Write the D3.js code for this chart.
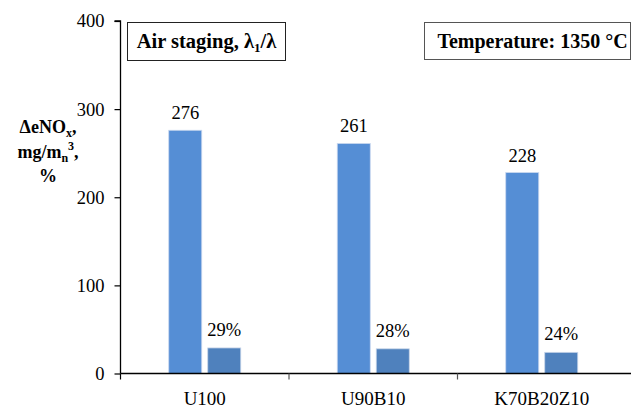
<!DOCTYPE html>
<html><head><meta charset="utf-8">
<script src="https://cdn.jsdelivr.net/npm/d3@7"></script>
</head><body style="margin:0;background:#fff"><svg id="c" width="632" height="407" style="display:block"></svg>
<script>
const categories = ["U100", "U90B10", "K70B20Z10"];
const emissionValues = [276, 261, 228];
const percentValues = [29, 28, 24];
const emissionLabels = ["276", "261", "228"];
const percentLabels = ["29%", "28%", "24%"];
const yTicks = [0, 100, 200, 300, 400];

const FONT = "'Liberation Serif'";
const svg = d3.select("#c");
const x0 = 120.5, x1 = 626, yTop = 21, yBot = 373.5;
const x = d3.scaleBand().domain(categories).range([x0, x1]);
const y = d3.scaleLinear().domain([0, 400]).range([yBot, yTop]);
const barW = 33, gap = 6;

function txt(sel) { return sel.style("font-family", FONT).style("fill", "#000"); }

const g = svg.append("g");
categories.forEach((c, i) => {
  const cx = x(c) + x.bandwidth() / 2;
  g.append("rect").attr("x", cx - gap/2 - barW).attr("y", y(emissionValues[i]))
    .attr("width", barW).attr("height", y(0) - y(emissionValues[i]))
    .attr("fill", "#558ed5").attr("stroke", "#c9d8ee").attr("stroke-width", 0.8);
  g.append("rect").attr("x", cx + gap/2).attr("y", y(percentValues[i]))
    .attr("width", barW).attr("height", y(0) - y(percentValues[i]))
    .attr("fill", "#4f81bd").attr("stroke", "#c6d4e8").attr("stroke-width", 0.8);
  txt(g.append("text")).attr("x", cx - gap/2 - barW/2).attr("y", y(emissionValues[i]) - 11)
    .attr("text-anchor", "middle").style("font-size", "18.5px").text(emissionLabels[i]);
  txt(g.append("text")).attr("x", cx + gap/2 + barW/2).attr("y", y(percentValues[i]) - 12)
    .attr("text-anchor", "middle").style("font-size", "18.5px").text(percentLabels[i]);
});

const ya = svg.append("g").attr("transform", `translate(${x0},0)`)
  .call(d3.axisLeft(y).tickValues(yTicks).tickSize(6).tickPadding(10));
ya.attr("font-family", null);
ya.select(".domain").attr("stroke", "#000").attr("stroke-width", 1.3).attr("d", `M-6,${yTop}H0V${yBot}`);
ya.selectAll(".tick line").attr("stroke", "#000").attr("stroke-width", 1.2);
txt(ya.selectAll("text")).style("font-size", "18.5px");

const xa = svg.append("g").attr("transform", `translate(0,${yBot})`);
xa.append("line").attr("x1", x0).attr("x2", 631).attr("stroke", "#000").attr("stroke-width", 1.6);
categories.forEach((c, i) => {
  xa.append("line").attr("x1", x(c)).attr("x2", x(c)).attr("y1", 0).attr("y2", 6)
    .attr("stroke", i === 0 ? "#000" : "#555").attr("stroke-width", 1.2);
  txt(xa.append("text")).attr("x", x(c) + x.bandwidth()/2).attr("y", 31)
    .attr("text-anchor", "middle").style("font-size", "19px").text(c);
});

const t1 = txt(svg.append("text")).attr("x", 48).attr("y", 133).attr("text-anchor", "middle")
  .style("font-weight", "bold").style("font-size", "18px");
t1.append("tspan").text("ΔeNO");
t1.append("tspan").style("font-size", "12px").attr("dy", 4).text("x");
t1.append("tspan").attr("dy", -4).text(",");
const t2 = txt(svg.append("text")).attr("x", 48).attr("y", 158).attr("text-anchor", "middle")
  .style("font-weight", "bold").style("font-size", "18px");
t2.append("tspan").text("mg/m");
t2.append("tspan").style("font-size", "12px").attr("dy", 4).text("n");
t2.append("tspan").style("font-size", "12px").attr("dy", -12).text("3");
t2.append("tspan").attr("dy", 8).text(",");
txt(svg.append("text")).attr("x", 48).attr("y", 182).attr("text-anchor", "middle")
  .style("font-weight", "bold").style("font-size", "18px").text("%");

svg.append("rect").attr("x", 127.5).attr("y", 22.5).attr("width", 158).attr("height", 38)
  .attr("fill", "#fff").attr("stroke", "#222").attr("stroke-width", 1);
const b1 = txt(svg.append("text")).attr("x", 206.5).attr("y", 48).attr("text-anchor", "middle")
  .style("font-weight", "bold").style("font-size", "20.5px");
b1.append("tspan").text("Air staging, λ");
b1.append("tspan").style("font-size", "13px").attr("dy", 4).text("1");
b1.append("tspan").attr("dy", -4).text("/λ");

svg.append("rect").attr("x", 424.5).attr("y", 22.5).attr("width", 206).attr("height", 37)
  .attr("fill", "#fff").attr("stroke", "#555").attr("stroke-width", 1);
txt(svg.append("text")).attr("x", 532.5).attr("y", 48).attr("text-anchor", "middle")
  .style("font-weight", "bold").style("font-size", "20px").text("Temperature: 1350 °C");
</script></body></html>
